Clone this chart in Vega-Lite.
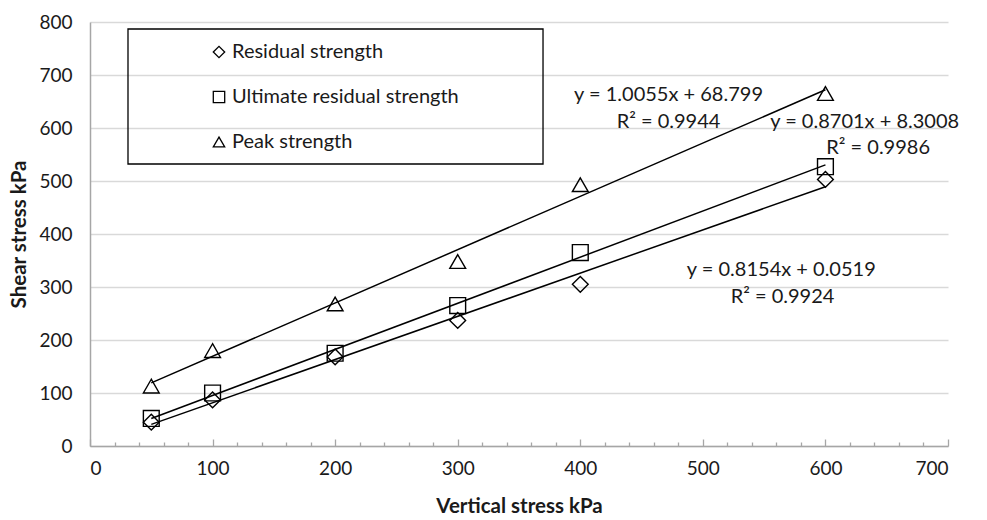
{
  "$schema": "https://vega.github.io/schema/vega-lite/v6.json",
  "width": 858,
  "height": 424,
  "autosize": "none",
  "padding": {"left": 90, "top": 22, "right": 39, "bottom": 74},
  "background": "white",
  "config": {
    "font": "Lato",
    "view": {"stroke": null},
    "axis": {
      "labelFont": "Lato", "labelFontSize": 19, "labelColor": "#1a1a1a",
      "titleFont": "Lato", "titleFontSize": 20.5, "titleFontWeight": "bold", "titleColor": "#1a1a1a",
      "gridColor": "#d9d9d9", "gridWidth": 1.3, "domainColor": "#a6a6a6", "domainWidth": 1.5, "tickColor": "#a6a6a6"
    },
    "legend": {
      "orient": "none", "legendX": 38, "legendY": 7,
      "padding": 13, "symbolOffset": 68, "labelOffset": 3, "rowPadding": 25, "labelLimit": 0,
      "labelFont": "Lato", "labelFontSize": 20, "labelColor": "#1a1a1a",
      "symbolStrokeColor": "black", "symbolFillColor": "white", "symbolStrokeWidth": 1.3, "symbolSize": 130
    }
  },
  "datasets": {
    "points": [
      {"series": "Residual strength", "x": 50, "y": 45},
      {"series": "Residual strength", "x": 100, "y": 87},
      {"series": "Residual strength", "x": 200, "y": 168},
      {"series": "Residual strength", "x": 300, "y": 237},
      {"series": "Residual strength", "x": 400, "y": 305},
      {"series": "Residual strength", "x": 600, "y": 503},
      {"series": "Ultimate residual strength", "x": 50, "y": 52},
      {"series": "Ultimate residual strength", "x": 100, "y": 100},
      {"series": "Ultimate residual strength", "x": 200, "y": 175},
      {"series": "Ultimate residual strength", "x": 300, "y": 265},
      {"series": "Ultimate residual strength", "x": 400, "y": 365},
      {"series": "Ultimate residual strength", "x": 600, "y": 527},
      {"series": "Peak strength", "x": 50, "y": 113},
      {"series": "Peak strength", "x": 100, "y": 180},
      {"series": "Peak strength", "x": 200, "y": 268},
      {"series": "Peak strength", "x": 300, "y": 348},
      {"series": "Peak strength", "x": 400, "y": 493},
      {"series": "Peak strength", "x": 600, "y": 665}
    ],
    "trends": [
      {"series": "Residual strength", "x": 50, "y": 40.82},
      {"series": "Residual strength", "x": 600, "y": 489.29},
      {"series": "Ultimate residual strength", "x": 50, "y": 51.81},
      {"series": "Ultimate residual strength", "x": 600, "y": 530.36},
      {"series": "Peak strength", "x": 50, "y": 119.07},
      {"series": "Peak strength", "x": 600, "y": 672.10}
    ],
    "labels": [
      {"text": "y = 1.0055x + 68.799", "x": 472, "y": 662},
      {"text": "R² = 0.9944", "x": 472, "y": 611},
      {"text": "y = 0.8701x + 8.3008", "x": 632, "y": 611},
      {"text": "R² = 0.9986", "x": 643, "y": 562},
      {"text": "y = 0.8154x + 0.0519", "x": 564, "y": 332},
      {"text": "R² = 0.9924", "x": 565, "y": 281}
    ]
  },
  "resolve": {"axis": {"x": "independent"}},
  "layer": [
    {
      "data": {"name": "trends"},
      "mark": {"type": "line", "color": "black", "strokeWidth": 1.5},
      "encoding": {
        "x": {"field": "x", "type": "quantitative",
          "scale": {"domain": [0, 700], "nice": false},
          "axis": {"title": "Vertical stress kPa", "orient": "bottom", "values": [0,100,200,300,400,500,600,700],
            "labelOverlap": false, "grid": false, "tickSize": -7, "tickWidth": 1.3, "labelPadding": 20, "titlePadding": 18}},
        "y": {"field": "y", "type": "quantitative",
          "scale": {"domain": [0, 800], "nice": false},
          "axis": {"title": "Shear stress kPa", "values": [0,100,200,300,400,500,600,700,800], "ticks": false, "labelPadding": 18, "titlePadding": 9}},
        "detail": {"field": "series"}
      }
    },
    {
      "data": {"values": [{}]},
      "mark": {"type": "rect", "fill": null, "fillOpacity": 0, "stroke": "black", "strokeWidth": 1.3},
      "encoding": {
        "x": {"datum": 31, "type": "quantitative", "axis": null},
        "x2": {"datum": 369.6},
        "y": {"datum": 786.8, "type": "quantitative"},
        "y2": {"datum": 532.1}
      }
    },
    {
      "data": {"name": "points"},
      "mark": {"type": "point", "filled": false, "stroke": "black", "strokeWidth": 1.4, "size": 250, "opacity": 1},
      "encoding": {
        "x": {"field": "x", "type": "quantitative",
          "axis": {"title": null, "orient": "bottom", "offset": 0, "values": [20,40,60,80,120,140,160,180,220,240,260,280,320,340,360,380,420,440,460,480,520,540,560,580,620,640,660,680],
            "labels": false, "domain": false, "grid": false, "tickSize": -4, "tickWidth": 1.3}},
        "y": {"field": "y", "type": "quantitative"},
        "shape": {"field": "series", "type": "nominal",
          "scale": {"domain": ["Residual strength", "Ultimate residual strength", "Peak strength"], "range": ["diamond", "square", "triangle-up"]},
          "legend": {"title": null}}
      }
    },
    {
      "data": {"name": "labels"},
      "mark": {"type": "text", "fontSize": 20, "color": "#1a1a1a", "align": "center", "baseline": "middle"},
      "encoding": {
        "x": {"field": "x", "type": "quantitative", "axis": null},
        "y": {"field": "y", "type": "quantitative"},
        "text": {"field": "text"}
      }
    }
  ]
}
